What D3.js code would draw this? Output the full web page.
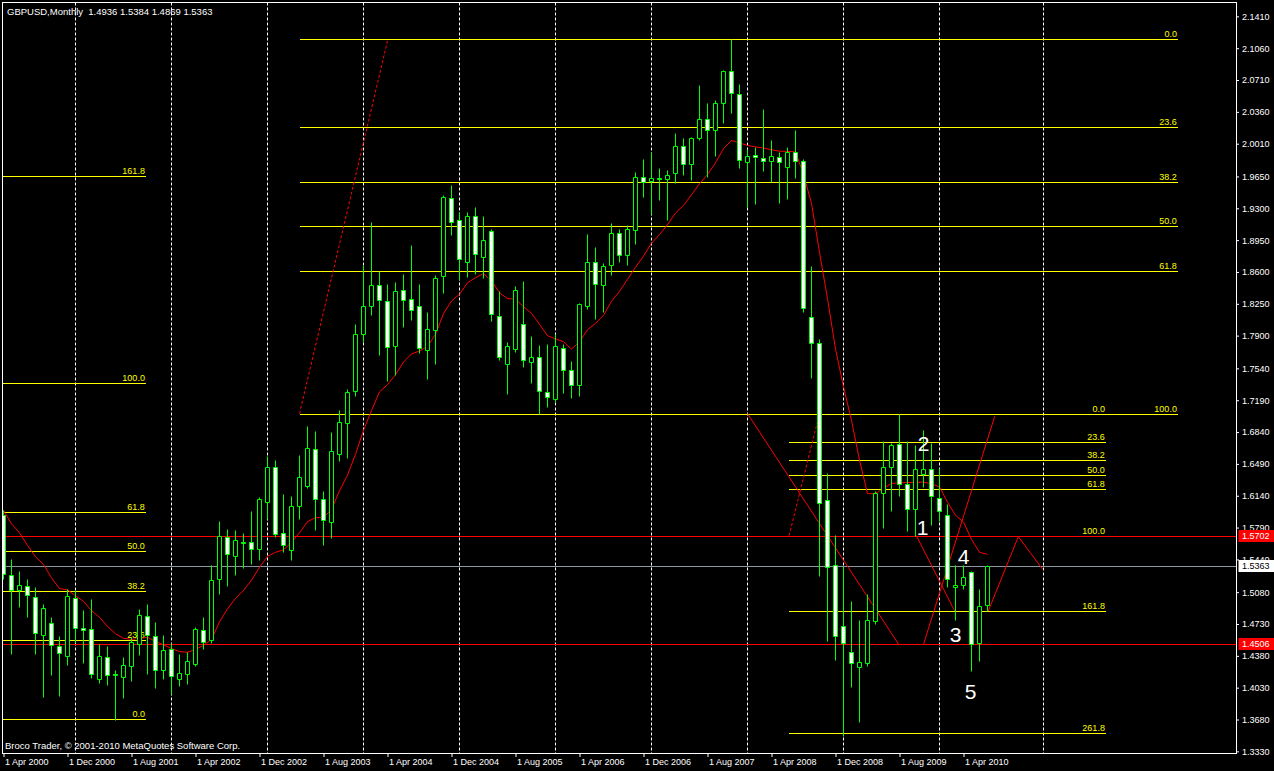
<!DOCTYPE html>
<html><head><meta charset="utf-8">
<script src="https://cdn.jsdelivr.net/npm/d3@7"></script>
<style>html,body{margin:0;padding:0;background:#000;overflow:hidden}</style>
</head><body><svg id="c" width="1274" height="771"></svg>
<script>
// ---- DATA (GBPUSD monthly, first bar = Apr 2000) ----
const symbolTitle = "GBPUSD,Monthly  1.4936 1.5384 1.4869 1.5363";
const copyright = "Broco Trader, \u00A9 2001-2010 MetaQuotes Software Corp.";
const openP = [1.5925,1.5273,1.5108,1.5152,1.5027,1.4613,1.4745,1.4485,1.4382,1.5020,
1.4682,1.4679,1.4130,1.4371,1.4181,1.4147,1.4268,1.4515,1.4822,1.4602,
1.4229,1.4455,1.4130,1.4185,1.4295,1.4668,1.4558,1.5229,1.5686,1.5477,
1.5633,1.5634,1.5555,1.6071,1.6460,1.5735,1.5540,1.6027,1.6247,1.6658,
1.6108,1.5855,1.6603,1.6940,1.7291,1.7918,1.8230,1.8461,1.8285,1.7786,
1.8406,1.8307,1.8226,1.7742,1.7966,1.8560,1.9417,1.9175,1.8715,1.9219,
1.8768,1.9054,1.8120,1.7592,1.7756,1.8032,1.7610,1.7667,1.7284,1.7203,
1.7768,1.7526,1.7362,1.8226,1.8715,1.8461,1.8673,1.9032,1.8783,1.9065,
1.9648,1.9604,1.9638,1.9622,1.9688,1.9989,1.9791,2.0077,2.0286,2.0165,
2.0462,2.0809,2.0560,1.9813,1.9890,1.9857,1.9820,1.9868,1.9754,1.9918,
1.9820,1.8105,1.7823,1.6097,1.5383,1.4712,1.4422,1.4262,1.4301,1.4767,
1.6170,1.6456,1.6713,1.6273,1.5998,1.6383,1.6438,1.6120,1.5931,1.5141,
1.5163,1.5302,1.4525,1.4936];
const highP = [1.5987,1.5449,1.5309,1.5221,1.5136,1.4954,1.4803,1.4595,1.5114,1.5100,
1.4880,1.5009,1.4507,1.4493,1.4229,1.4367,1.4588,1.4899,1.4946,1.4748,
1.4606,1.4521,1.4400,1.4425,1.4697,1.4803,1.5375,1.5859,1.5778,1.5760,
1.5730,1.5969,1.6130,1.6573,1.6529,1.6156,1.6134,1.6584,1.6903,1.6848,
1.6189,1.6840,1.7079,1.7318,1.8024,1.8673,1.9146,1.8610,1.8464,1.8486,
1.8574,1.8893,1.8464,1.8156,1.8563,1.9442,1.9552,1.9256,1.9263,1.9318,
1.9212,1.9076,1.8390,1.7826,1.8442,1.8497,1.7893,1.7793,1.7804,1.7922,
1.7804,1.7619,1.8255,1.9014,1.8871,1.8695,1.9135,1.9076,1.9113,1.9695,
1.9838,1.9915,1.9739,1.9717,2.0124,2.0070,2.0081,2.0652,2.0454,2.0487,
2.0817,2.1161,2.0670,1.9948,1.9973,2.0388,2.0047,1.9923,1.9973,2.0157,
1.9838,1.8662,1.7867,1.6394,1.5712,1.5364,1.4979,1.4770,1.5064,1.6189,
1.6738,1.6724,1.7043,1.6738,1.6694,1.6867,1.6724,1.6449,1.6052,1.5375,
1.5375,1.5310,1.5119,1.5384];
const lowP = [1.5229,1.4404,1.4917,1.4807,1.4404,1.3927,1.4166,1.3938,1.4276,1.4518,
1.4301,1.4141,1.4078,1.4056,1.3670,1.3921,1.4104,1.4386,1.4185,1.4031,
1.4130,1.3957,1.4049,1.4067,1.4268,1.4459,1.4521,1.5056,1.5144,1.5265,
1.5350,1.5386,1.5430,1.5888,1.5686,1.5521,1.5430,1.5880,1.6225,1.5760,
1.5595,1.5675,1.6521,1.6554,1.7233,1.7826,1.8123,1.7684,1.7398,1.7464,
1.7995,1.8068,1.7713,1.7420,1.7588,1.8368,1.9003,1.8508,1.8545,1.8581,
1.8534,1.8061,1.7629,1.7262,1.7718,1.7555,1.7383,1.7040,1.7115,1.7170,
1.7268,1.7215,1.7237,1.8193,1.8083,1.8161,1.8563,1.8706,1.8673,1.8904,
1.9425,1.9241,1.9391,1.9168,1.9578,1.9662,1.9607,2.0055,1.9640,1.9871,
2.0237,2.0347,1.9747,1.9314,1.9351,1.9710,1.9585,1.9358,1.9398,1.9632,
1.8161,1.7438,1.5257,1.4543,1.4338,1.3495,1.4037,1.3651,1.4265,1.4734,
1.5785,1.5972,1.6137,1.5752,1.5697,1.6236,1.5818,1.5866,1.5136,1.4777,
1.5119,1.4213,1.4323,1.4869];
const closeP = [1.5284,1.5100,1.5163,1.5053,1.4635,1.4910,1.4503,1.4411,1.5042,1.4690,
1.4668,1.4185,1.4382,1.4174,1.4170,1.4284,1.4532,1.4833,1.4613,1.4229,
1.4448,1.4159,1.4196,1.4323,1.4679,1.4532,1.5210,1.5694,1.5504,1.5650,
1.5622,1.5559,1.6101,1.6460,1.5719,1.5602,1.6031,1.6350,1.6669,1.6108,
1.5873,1.6636,1.6955,1.7284,1.7922,1.8230,1.8461,1.8296,1.7775,1.8395,
1.8296,1.8186,1.7764,1.7973,1.8538,1.9428,1.9153,1.8747,1.9219,1.8801,
1.8955,1.8142,1.7667,1.7790,1.8406,1.7636,1.7667,1.7288,1.7222,1.7782,
1.7526,1.7362,1.8251,1.8715,1.8472,1.8670,1.9032,1.8783,1.9076,1.9648,
1.9585,1.9637,1.9627,1.9670,1.9989,1.9791,2.0077,2.0286,2.0165,2.0462,
2.0806,2.0567,1.9835,1.9879,1.9863,1.9824,1.9871,1.9813,1.9918,1.9820,
1.8208,1.7823,1.6064,1.5356,1.4602,1.4525,1.4306,1.4317,1.4770,1.6174,
1.6460,1.6702,1.6273,1.5998,1.6438,1.6438,1.6137,1.5976,1.5229,1.5163,
1.5246,1.4515,1.4928,1.5363];
const maValues = [1.5980,1.5831,1.5732,1.5595,1.5468,1.5386,1.5237,1.5119,1.5106,1.5040,
1.4979,1.4877,1.4803,1.4704,1.4622,1.4572,1.4561,1.4572,1.4583,1.4539,
1.4501,1.4460,1.4427,1.4419,1.4451,1.4495,1.4561,1.4754,1.4896,1.5012,
1.5100,1.5212,1.5353,1.5474,1.5518,1.5546,1.5628,1.5732,1.5855,1.5899,
1.5899,1.5991,1.6195,1.6367,1.6595,1.6859,1.7076,1.7281,1.7361,1.7471,
1.7610,1.7698,1.7731,1.7782,1.7914,1.8142,1.8282,1.8355,1.8481,1.8537,
1.8582,1.8501,1.8373,1.8307,1.8301,1.8218,1.8145,1.8025,1.7900,1.7864,
1.7834,1.7752,1.7832,1.7964,1.8035,1.8123,1.8277,1.8387,1.8519,1.8651,
1.8775,1.8915,1.9010,1.9120,1.9248,1.9332,1.9449,1.9570,1.9671,1.9800,
1.9956,2.0046,2.0019,1.9991,1.9975,1.9962,1.9944,1.9927,1.9926,1.9920,
1.9673,1.9354,1.8816,1.8306,1.7754,1.7337,1.6969,1.6531,1.6163,1.6163,
1.6221,1.6276,1.6282,1.6285,1.6287,1.6290,1.6271,1.6238,1.6069,1.5925,
1.5851,1.5661,1.5518,1.5496];

const priceTicks = [2.1410,2.1060,2.0710,2.0360,2.0010,1.9650,1.9300,1.8950,1.8600,1.8250,1.7900,1.7540,
  1.7190,1.6840,1.6490,1.6140,1.5790,1.5440,1.5080,1.4730,1.4380,1.4030,1.3680,1.3330];
const dateTickMonths = [0,8,16,24,32,40,48,56,64,72,80,88,96,104,112,120];
const dateTickLabels = ["1 Apr 2000","1 Dec 2000","1 Aug 2001","1 Apr 2002","1 Dec 2002","1 Aug 2003",
  "1 Apr 2004","1 Dec 2004","1 Aug 2005","1 Apr 2006","1 Dec 2006","1 Aug 2007","1 Apr 2008",
  "1 Dec 2008","1 Aug 2009","1 Apr 2010"];
const gridMonths = [9,21,33,45,57,69,81,93,105,117,130];

// Fibonacci objects: [price at 0%, price at 100%], [start bar, end bar], levels
const fibLeftAnchor = [1.3682, 1.7376], fibLeftSpan = [-3, 17.8], fibLeftLevels = [0,23.6,38.2,50,61.8,100,161.8];
const fibBigAnchor = [2.1161, 1.7043], fibBigSpan = [37, 146.8], fibBigLevels = [0,23.6,38.2,50,61.8,100];
const fibRightAnchor = [1.7043, 1.5702], fibRightSpan = [98.2, 137.8], fibRightLevels = [0,23.6,38.2,50,61.8,100,161.8,261.8];
const fibBigDash = [[37,1.7043],[48.05,2.1161]];
const fibRightDash = [[98.2,1.5702],[102.0,1.7043]];

// red trendlines (bar index, price)
const waveLineA = [[93,1.7043],[111.9,1.4506]];
const waveLineB = [[115,1.4506],[123.9,1.7013]];
const waveLineC = [[114.1,1.5702],[118.9,1.4873]];
const waveLineD = [[123.1,1.4873],[126.85,1.5690],[129.9,1.5331]];

const waveLabels = ["1","2","3","4","5"];
const waveLabelBars = [114.9,115,119,120,120.9];
const waveLabelPrices = [1.5796,1.6713,1.4616,1.5474,1.3993];

const redLevels = [1.5702, 1.4506];
const bidPrice = 1.5363;

// ---- CHART ----
const W = 1274, H = 771;
const svg = d3.select('#c');
const FONT = '"Liberation Sans", Arial, sans-serif';
svg.append('rect').attr('width', W).attr('height', H).attr('fill', '#000');

const x = d3.scaleLinear().domain([0, 100]).range([3.5, 803.5]);
const y = d3.scaleLinear().domain([1.3330, 2.1410]).range([751.35, 16.35]);
const cy = v => Math.round(y(v)) + 0.5;
const cx = i => Math.round(x(i) - 0.5) + 0.5;

const PL = 2.5, PT = 2.5, PR = 1236.5, PB = 753.5;
svg.append('defs').append('clipPath').attr('id', 'clip')
  .append('rect').attr('x', PL + 0.5).attr('y', PT + 0.5).attr('width', PR - PL - 1).attr('height', PB - PT - 1);
const g = svg.append('g').attr('clip-path', 'url(#clip)');

// grid
g.selectAll('line.grid').data(gridMonths).enter().append('line')
  .attr('x1', d => cx(d)).attr('x2', d => cx(d)).attr('y1', PT).attr('y2', PB)
  .attr('stroke', '#fff').attr('stroke-width', 1).attr('stroke-dasharray', '3,2');

// bid line
g.append('line').attr('x1', PL).attr('x2', PR).attr('y1', cy(bidPrice)).attr('y2', cy(bidPrice))
  .attr('stroke', '#8a96a3').attr('stroke-width', 1).attr('shape-rendering', 'crispEdges');

// fibonacci retracements
function drawFib(anchor, span, levels) {
  const fg = g.append('g');
  levels.forEach(L => {
    const p = anchor[0] + (anchor[1] - anchor[0]) * L / 100;
    const yy = cy(p);
    fg.append('line').attr('x1', x(span[0])).attr('x2', x(span[1])).attr('y1', yy).attr('y2', yy)
      .attr('stroke', '#ffff00').attr('stroke-width', 1).attr('shape-rendering', 'crispEdges');
    fg.append('text').attr('x', x(span[1]) - 1).attr('y', yy - 3).attr('text-anchor', 'end')
      .attr('fill', '#ffff00').attr('font-family', FONT).attr('font-size', 9).text(L.toFixed(1));
  });
}
drawFib(fibLeftAnchor, fibLeftSpan, fibLeftLevels);
drawFib(fibBigAnchor, fibBigSpan, fibBigLevels);
drawFib(fibRightAnchor, fibRightSpan, fibRightLevels);

// horizontal red price lines (drawn over the fib levels)
g.selectAll('line.redlvl').data(redLevels).enter().append('line').attr('class', 'redlvl')
  .attr('x1', PL).attr('x2', PR).attr('y1', d => cy(d)).attr('y2', d => cy(d))
  .attr('stroke', '#ff0000').attr('stroke-width', 1).attr('shape-rendering', 'crispEdges');

const lineGen = d3.line().x(d => x(d[0])).y(d => y(d[1]));
[fibBigDash, fibRightDash].forEach(d => g.append('path').attr('d', lineGen(d)).attr('fill', 'none')
  .attr('stroke', '#ff0000').attr('stroke-width', 1).attr('stroke-dasharray', '3,2'));
[waveLineA, waveLineB, waveLineC, waveLineD].forEach(d => g.append('path').attr('d', lineGen(d))
  .attr('fill', 'none').attr('stroke', '#ff0000').attr('stroke-width', 1));

// moving average
g.append('path').attr('d', d3.line().x((d, i) => x(i)).y(d => y(d))(maValues))
  .attr('fill', 'none').attr('stroke', '#ff0000').attr('stroke-width', 1);

// candles
const idx = d3.range(openP.length);
const cg = g.append('g');
cg.selectAll('line.wick').data(idx).enter().append('line')
  .attr('x1', i => cx(i)).attr('x2', i => cx(i))
  .attr('y1', i => cy(highP[i])).attr('y2', i => cy(lowP[i]))
  .attr('stroke', '#00ff00').attr('stroke-width', 1);
cg.selectAll('path.body').data(idx).enter().append('path')
  .attr('d', i => {
    const t = Math.min(cy(openP[i]), cy(closeP[i])), b = Math.max(cy(openP[i]), cy(closeP[i]));
    const c = cx(i);
    return `M${c - 2},${t}H${c + 2}V${b}H${c - 2}Z`;
  })
  .attr('fill', i => closeP[i] < openP[i] ? '#ffffff' : '#000000')
  .attr('stroke', '#00ff00').attr('stroke-width', 1);

// wave labels
g.selectAll('text.wave').data(waveLabels).enter().append('text')
  .attr('x', (d, i) => x(waveLabelBars[i])).attr('y', (d, i) => y(waveLabelPrices[i]))
  .attr('text-anchor', 'middle').attr('dominant-baseline', 'central')
  .attr('fill', '#fff').attr('font-family', FONT).attr('font-size', 21).text(d => d);

// title and copyright
svg.append('text').attr('x', 7).attr('y', 14.5).attr('fill', '#fff').attr('font-family', FONT)
  .attr('font-size', 9.5).attr('xml:space', 'preserve').style('white-space', 'pre').text(symbolTitle);
svg.append('text').attr('x', 5).attr('y', 749).attr('fill', '#fff').attr('font-family', FONT)
  .attr('font-size', 9.5).text(copyright);

// border
svg.append('rect').attr('x', PL).attr('y', PT).attr('width', PR - PL).attr('height', PB - PT)
  .attr('fill', 'none').attr('stroke', '#fff').attr('stroke-width', 1);

// axes
const ay = svg.append('g').attr('transform', `translate(${PR - 0.5},0)`)
  .call(d3.axisRight(y).tickValues(priceTicks).tickFormat(d3.format('.4f')).tickSize(3).tickPadding(3));
ay.select('.domain').remove();
ay.selectAll('line').attr('stroke', '#fff');
ay.selectAll('text').attr('fill', '#fff').attr('font-family', FONT).attr('font-size', 9);

const ax = svg.append('g').attr('transform', `translate(0,${PB - 0.5})`)
  .call(d3.axisBottom(x).tickValues(dateTickMonths).tickFormat((d, i) => dateTickLabels[i]).tickSize(4).tickPadding(2));
ax.select('.domain').remove();
ax.selectAll('line').attr('stroke', '#fff');
ax.selectAll('text').attr('fill', '#fff').attr('font-family', FONT).attr('font-size', 9)
  .attr('text-anchor', 'start').attr('dx', 1);

// price boxes on axis
function priceBox(p, bg, fg) {
  const yy = y(p);
  svg.append('rect').attr('x', PR + 2).attr('y', Math.round(yy) - 6).attr('width', W - PR - 2).attr('height', 12).attr('fill', bg);
  svg.append('text').attr('x', PR + 5.5).attr('y', yy).attr('dominant-baseline', 'central')
    .attr('fill', fg).attr('font-family', FONT).attr('font-size', 9).text(p.toFixed(4));
}
redLevels.forEach(p => priceBox(p, '#ff0000', '#fff'));
priceBox(bidPrice, '#fff', '#000');
</script></body></html>
